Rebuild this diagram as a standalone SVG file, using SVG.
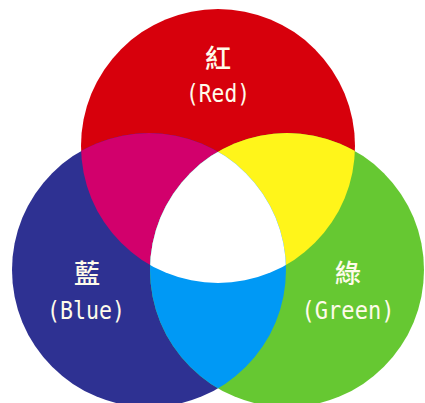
<svg xmlns="http://www.w3.org/2000/svg" width="425" height="403" viewBox="0 0 425 403">
<style>
.cjk{font-family:"Noto Sans CJK TC","Noto Sans CJK SC",sans-serif;font-size:26px;font-weight:500;fill:#fffbea;text-anchor:middle}
.lat{font-family:"DejaVu Sans Mono","Liberation Mono",monospace;font-size:24px;fill:#fffbea;text-anchor:middle}
</style>
<defs>
<clipPath id="cR"><circle cx="218" cy="146" r="137"/></clipPath>
<clipPath id="cB"><circle cx="149" cy="270" r="137"/></clipPath>
</defs>
<rect width="425" height="403" fill="#ffffff"/>
<g id="red"><circle cx="218" cy="146" r="137" fill="#d7000c"/></g>
<g id="blue"><circle cx="149" cy="270" r="137" fill="#2e3192"/></g>
<g id="green"><circle cx="287" cy="270" r="137" fill="#66c832"/></g>
<g id="overlaps">
<circle cx="149" cy="270" r="137" fill="#d2006c" clip-path="url(#cR)"/>
<circle cx="287" cy="270" r="137" fill="#fff51a" clip-path="url(#cR)"/>
<circle cx="287" cy="270" r="137" fill="#0099f5" clip-path="url(#cB)"/>
<g clip-path="url(#cR)"><circle cx="287" cy="270" r="137" fill="#ffffff" clip-path="url(#cB)"/></g>
</g>
<g id="labels">
<text class="cjk" x="218" y="68">紅</text>
<text class="lat" x="218" y="102" textLength="64" lengthAdjust="spacingAndGlyphs">(Red)</text>
<text class="cjk" x="87" y="283">藍</text>
<text class="lat" x="86" y="319" textLength="78" lengthAdjust="spacingAndGlyphs">(Blue)</text>
<text class="cjk" x="348" y="283">綠</text>
<text class="lat" x="348" y="319" textLength="93" lengthAdjust="spacingAndGlyphs">(Green)</text>
</g>
</svg>
